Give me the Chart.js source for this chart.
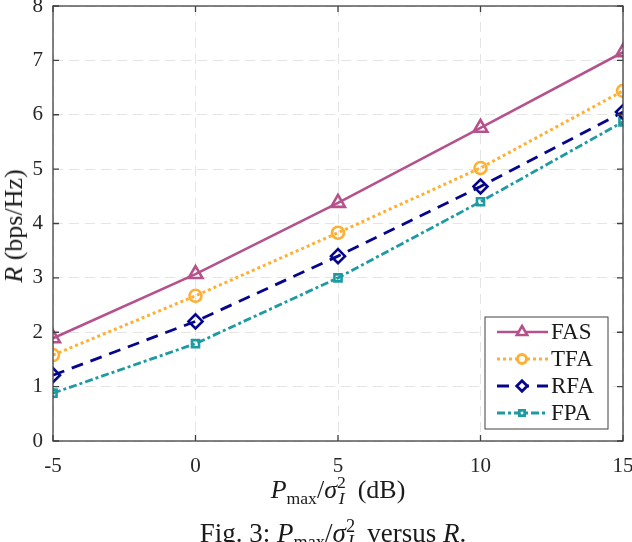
<!DOCTYPE html>
<html>
<head>
<meta charset="utf-8">
<script src="https://cdn.jsdelivr.net/npm/chart.js@4.4.0/dist/chart.umd.min.js"></script>
<style>
  html, body { margin: 0; padding: 0; background: #fff; overflow: hidden; }
  #wrap { position: relative; width: 632px; height: 542px; overflow: hidden; }
  canvas { position: absolute; left: 0; top: 0; }
  .lbl { position: absolute; font-family: "Liberation Serif", "DejaVu Serif", serif; color: #1a1a1a; white-space: nowrap; line-height: 1; }
  .lbl sub, .lbl sup { font-size: 68%; line-height: 0; }
  #ytitle { left: 14px; top: 226px; font-size: 26px; transform: translate(-50%, -50%) rotate(-90deg); }
  #xtitle { left: 338px; top: 490px; font-size: 26px; transform: translate(-50%, -50%); }
  #caption { left: 333px; top: 520px; font-size: 27px; transform: translateX(-50%); }
</style>
</head>
<body>
<div id="wrap">
  <canvas id="chart" width="632" height="542"></canvas>
  <div class="lbl" id="ytitle"><i>R</i> (bps/Hz)</div>
  <div class="lbl" id="xtitle"><i>P</i><sub>max</sub>/<i>σ</i><sup>2</sup><sub style="margin-left:-0.4em"><i>I</i></sub>&nbsp; (dB)</div>
  <div class="lbl" id="caption">Fig. 3: <i>P</i><sub>max</sub>/<i>σ</i><sup>2</sup><sub style="margin-left:-0.4em"><i>I</i></sub>&nbsp; versus <i>R</i>.</div>
</div>
<script>
// Données
const snrDb = [-5, 0, 5, 10, 15];
const fasRate = [1.89, 3.07, 4.38, 5.76, 7.15];
const tfaRate = [1.58, 2.67, 3.83, 5.02, 6.44];
const rfaRate = [1.21, 2.20, 3.40, 4.68, 6.05];
const fpaRate = [0.88, 1.79, 3.00, 4.40, 5.87];
const xTicks = [-5, 0, 5, 10, 15];
const yTicks = [0, 1, 2, 3, 4, 5, 6, 7, 8];

const serif = '"Liberation Serif", "DejaVu Serif", serif';

function pts(vals) {
  return snrDb.map((x, i) => ({ x: x, y: vals[i] }));
}

// Cadre, graduations intérieures et légende dans la zone du graphique
const framePlugin = {
  id: 'frame',
  afterDraw(chart) {
    const { ctx, chartArea: a, scales: { x, y } } = chart;
    ctx.save();
    ctx.strokeStyle = '#404040';
    ctx.lineWidth = 1.3;
    ctx.setLineDash([]);
    ctx.strokeRect(a.left, a.top, a.right - a.left, a.bottom - a.top);
    const tl = 6;
    ctx.beginPath();
    xTicks.forEach(v => {
      const px = x.getPixelForValue(v);
      ctx.moveTo(px, a.bottom); ctx.lineTo(px, a.bottom - tl);
      ctx.moveTo(px, a.top); ctx.lineTo(px, a.top + tl);
    });
    yTicks.forEach(v => {
      const py = y.getPixelForValue(v);
      ctx.moveTo(a.left, py); ctx.lineTo(a.left + tl, py);
      ctx.moveTo(a.right, py); ctx.lineTo(a.right - tl, py);
    });
    ctx.stroke();

    // Légende
    const bx = a.right - 138, by = a.bottom - 124, bw = 123, bh = 112;
    ctx.fillStyle = '#fff';
    ctx.fillRect(bx, by, bw, bh);
    ctx.strokeStyle = '#404040';
    ctx.lineWidth = 1;
    ctx.strokeRect(bx, by, bw, bh);
    chart.data.datasets.forEach((ds, i) => {
      const ly = by + 15 + i * 27;
      ctx.strokeStyle = ds.borderColor;
      ctx.lineWidth = ds.borderWidth;
      ctx.setLineDash(ds.borderDash || []);
      ctx.beginPath();
      ctx.moveTo(bx + 12, ly); ctx.lineTo(bx + 63, ly);
      ctx.stroke();
      ctx.setLineDash([]);
      ctx.fillStyle = '#fff';
      Chart.helpers.drawPoint(ctx, {
        pointStyle: ds.pointStyle, radius: ds.pointRadius * 0.75, borderWidth: ds.pointBorderWidth
      }, bx + 37, ly);
      ctx.fillStyle = '#1a1a1a';
      ctx.font = '23px ' + serif;
      ctx.textBaseline = 'middle';
      ctx.textAlign = 'left';
      ctx.fillText(ds.label, bx + 66, ly + 1);
    });
    ctx.restore();
  }
};

const ctx = document.getElementById('chart').getContext('2d');
new Chart(ctx, {
  type: 'line',
  data: {
    datasets: [{
      label: 'FAS',
      data: pts(fasRate),
      borderColor: '#B5528C',
      backgroundColor: 'rgba(0,0,0,0)',
      borderWidth: 2.6,
      pointStyle: 'triangle',
      pointRadius: 8,
      pointBorderWidth: 2.6
    }, {
      label: 'TFA',
      data: pts(tfaRate),
      borderColor: '#FFB032',
      backgroundColor: 'rgba(0,0,0,0)',
      borderWidth: 3,
      borderDash: [3, 3],
      pointStyle: 'circle',
      pointRadius: 6,
      pointBorderWidth: 2.6
    }, {
      label: 'RFA',
      data: pts(rfaRate),
      borderColor: '#06068C',
      backgroundColor: 'rgba(0,0,0,0)',
      borderWidth: 2.8,
      borderDash: [12, 8],
      pointStyle: 'rectRot',
      pointRadius: 7,
      pointBorderWidth: 2.6
    }, {
      label: 'FPA',
      data: pts(fpaRate),
      borderColor: '#1E9AA2',
      backgroundColor: 'rgba(0,0,0,0)',
      borderWidth: 2.8,
      borderDash: [8, 3, 3, 3],
      pointStyle: 'rect',
      pointRadius: 5,
      pointBorderWidth: 2.6
    }]
  },
  options: {
    responsive: false,
    animation: false,
    events: [],
    layout: { autoPadding: false, padding: { top: 6, right: 9, left: 0, bottom: 0 } },
    plugins: {
      legend: { display: false },
      tooltip: { enabled: false }
    },
    scales: {
      x: {
        type: 'linear',
        min: -5,
        max: 15,
        afterBuildTicks: s => { s.ticks = xTicks.map(v => ({ value: v })); },
        afterFit: s => { s.height = 101; s.paddingLeft = 0; s.paddingRight = 0; },
        grid: { color: '#E4E4E4', drawTicks: false },
        border: { display: false, dash: [10, 6] },
        ticks: { padding: 13, color: '#262626', font: { family: serif, size: 21 }, maxRotation: 0 }
      },
      y: {
        min: 0,
        max: 8,
        afterBuildTicks: s => { s.ticks = yTicks.map(v => ({ value: v })); },
        afterFit: s => { s.width = 53; s.paddingTop = 0; s.paddingBottom = 0; },
        grid: { color: '#E4E4E4', drawTicks: false },
        border: { display: false, dash: [10, 6] },
        ticks: { padding: 10, color: '#262626', font: { family: serif, size: 21 } }
      }
    }
  },
  plugins: [framePlugin]
});
</script>
</body>
</html>
